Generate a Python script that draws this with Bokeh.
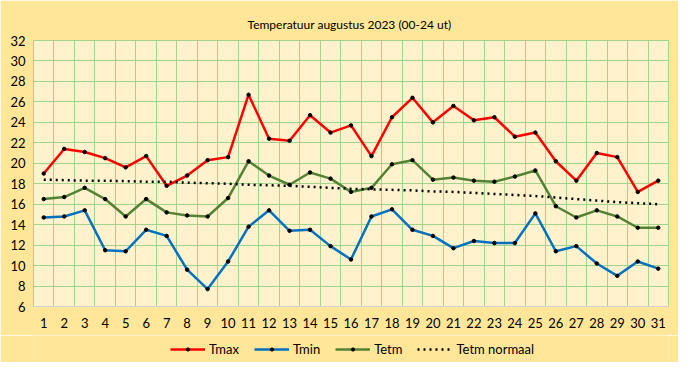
from bokeh.plotting import figure
from bokeh.layouts import column
from bokeh.models import FixedTicker, Legend, LegendItem
from bokeh.embed import file_html
from bokeh.resources import INLINE

days = list(range(1, 32))
tmax = [19.0, 21.4, 21.1, 20.5, 19.6, 20.7, 17.8, 18.8, 20.3, 20.6,
        26.7, 22.4, 22.2, 24.7, 23.0, 23.7, 20.7, 24.5, 26.4, 24.0,
        25.6, 24.2, 24.5, 22.6, 23.0, 20.2, 18.3, 21.0, 20.6, 17.2, 18.3]
tmin = [14.7, 14.8, 15.4, 11.5, 11.4, 13.5, 12.9, 9.6, 7.7, 10.4,
        13.8, 15.4, 13.4, 13.5, 11.9, 10.6, 14.8, 15.5, 13.5, 12.9,
        11.7, 12.4, 12.2, 12.2, 15.1, 11.4, 11.9, 10.2, 9.0, 10.4, 9.7]
tetm = [16.5, 16.7, 17.6, 16.5, 14.8, 16.5, 15.2, 14.9, 14.8, 16.6,
        20.2, 18.8, 17.9, 19.1, 18.5, 17.2, 17.6, 19.9, 20.3, 18.4,
        18.6, 18.3, 18.2, 18.7, 19.3, 15.8, 14.7, 15.4, 14.8, 13.7, 13.7]
tetm_normaal = [18.4, 18.35, 18.3, 18.3, 18.25, 18.2, 18.2, 18.1, 18.05, 18.0,
                17.9, 17.85, 17.8, 17.7, 17.6, 17.5, 17.45, 17.4, 17.35, 17.25,
                17.2, 17.1, 17.0, 16.9, 16.8, 16.65, 16.5, 16.35, 16.2, 16.1, 16.0]
y_ticks = list(range(6, 33, 2))
series_names = ["Tmax", "Tmin", "Tetm", "Tetm normaal"]
title_text = "Temperatuur  augustus 2023 (00-24 ut)"

FONT = "Lato"
GRID = "#A6D38A"
OUTER = "#FFE699"
C_MAX, C_MIN, C_ETM = "#FF0000", "#0070C0", "#548235"
DOT = "2 4"

p = figure(width=678, height=335, x_range=(0.5, 31.5), y_range=(6, 32),
           output_backend="svg", toolbar_location=None,
           min_border_left=33, min_border_right=10, min_border_top=40, min_border_bottom=29)

p.background_fill_color = "#FFF2CC"
p.border_fill_color = OUTER
p.outline_line_color = GRID
p.outline_line_width = 1

p.title.text = title_text
p.title.align = "center"
p.title.text_font = FONT
p.title.text_font_size = "12px"
p.title.text_font_style = "normal"
p.title.text_color = "#000000"
p.title.standoff = 18

# axes
p.xaxis.ticker = FixedTicker(ticks=days)
p.yaxis.ticker = FixedTicker(ticks=y_ticks)
for ax in (p.xaxis[0], p.yaxis[0]):
    ax.major_tick_line_color = None
    ax.minor_tick_line_color = None
    ax.major_tick_out = 0
    ax.major_tick_in = 0
    ax.major_label_text_font = FONT
    ax.major_label_text_font_size = "13px"
    ax.major_label_text_color = "#000000"
p.yaxis.axis_line_color = None
p.xaxis.axis_line_color = "#D0D0D0"
p.xaxis.major_label_standoff = 11
p.yaxis.major_label_standoff = 8

# grid
p.xgrid.ticker = FixedTicker(ticks=[d - 0.5 for d in days] + [days[-1] + 0.5])
p.ygrid.ticker = FixedTicker(ticks=y_ticks)
p.xgrid.grid_line_color = GRID
p.ygrid.grid_line_color = GRID
p.xgrid.grid_line_width = 1
p.ygrid.grid_line_width = 1

p.line(days, tmax, line_color=C_MAX, line_width=2.5)
p.scatter(days, tmax, size=3.5, color="black")
p.line(days, tmin, line_color=C_MIN, line_width=2.5)
p.scatter(days, tmin, size=3.5, color="black")
p.line(days, tetm, line_color=C_ETM, line_width=2.5)
p.scatter(days, tetm, size=3.5, color="black")
p.line(days, tetm_normaal, line_color="black", line_width=2.5, line_dash=DOT)

# legend strip below the chart (its swatch renderers use the same data,
# which falls entirely outside this strip's ranges, so only the legend shows)
lf = figure(width=678, height=27, x_range=(-2, -1), y_range=(-2, -1),
            output_backend="svg", toolbar_location=None,
            x_axis_location=None, y_axis_location=None,
            min_border_left=0, min_border_right=0, min_border_top=0, min_border_bottom=0)
lf.background_fill_color = OUTER
lf.border_fill_color = OUTER
lf.outline_line_color = None
lf.grid.visible = False

items = []
for name, vals, col in zip(series_names[:3], [tmax, tmin, tetm], [C_MAX, C_MIN, C_ETM]):
    rl = lf.line(days, vals, line_color=col, line_width=2.5)
    rs = lf.scatter(days, vals, color="black")
    items.append(LegendItem(label=name, renderers=[rl, rs]))
rn = lf.line(days, tetm_normaal, line_color="black", line_width=2.5, line_dash=DOT)
items.append(LegendItem(label=series_names[3], renderers=[rn]))

legend = Legend(items=items, orientation="horizontal", location=(137, 5))
legend.background_fill_alpha = 0
legend.border_line_alpha = 0
legend.padding = 0
legend.margin = 0
legend.spacing = 15
legend.glyph_width = 35
legend.glyph_height = 8
legend.label_height = 16
legend.label_standoff = 4
legend.label_text_font = FONT
legend.label_text_font_size = "13px"
legend.label_text_color = "#000000"
lf.add_layout(legend, "center")

layout = column(p, lf, spacing=0)
open("out.html", "w").write(file_html(layout, INLINE))
